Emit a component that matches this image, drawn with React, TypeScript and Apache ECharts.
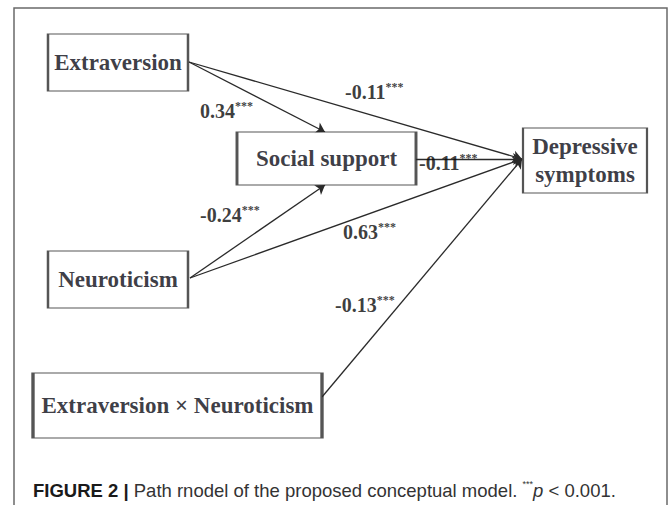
import React, { useEffect, useRef } from "react";
import * as echarts from "echarts";

// Constructs (nodes) of the path model
const nodeNames = [
  "Extraversion",
  "Social support",
  "Depressive\nsymptoms",
  "Neuroticism",
  "Extraversion × Neuroticism",
];
// Layout of the diagram (centre x, centre y, width, height) in diagram units
const nodeX = [118, 326.5, 585, 118, 177.5];
const nodeY = [62.5, 158.5, 160.5, 279.5, 405.5];
const nodeW = [140, 179, 124, 140, 289];
const nodeH = [57, 53, 65, 57, 65];

// Paths: source, target and standardized coefficient
const pathFrom = [0, 0, 1, 3, 3, 4];
const pathTo = [2, 1, 2, 1, 2, 2];
const pathCoef = ["-0.11", "0.34", "-0.11", "-0.24", "0.63", "-0.13"];
const pathSig = ["***", "***", "***", "***", "***", "***"];
// Where each path leaves / enters a box
const fromPort = [
  [189, 62],
  [189, 62],
  [416, 159],
  [190, 278],
  [190, 278],
  [322, 397],
];
const toPort = [
  [522, 159],
  [325, 132],
  [522, 159],
  [325, 185],
  [522, 159],
  [522, 159],
];
// Where each coefficient label sits (left edge, middle)
const labelPos = [
  [345, 92],
  [200, 111],
  [419, 163],
  [200, 215],
  [343, 232],
  [335, 305],
];

const captionBold = "FIGURE 2 | ";
const captionText = "Path rnodel of the proposed conceptual model. ";
const captionTail = " < 0.001.";

export default function App() {
  const ref = useRef<HTMLDivElement>(null);
  useEffect(() => {
    if (!ref.current) return;
    const chart = echarts.init(ref.current, null, { renderer: "svg" });
    const serif = "'Liberation Serif', 'Times New Roman', serif";
    const sans = "'Liberation Sans', Arial, Helvetica, sans-serif";

    const boxData = nodeNames.map((n, i) => ({
      name: n,
      value: [nodeX[i], nodeY[i]],
      symbolSize: [nodeW[i], nodeH[i]],
    }));

    const lineData = pathFrom.map((f, i) => ({
      coords: [fromPort[i], toPort[i]],
    }));

    const labelData = pathCoef.map((c, i) => ({
      value: labelPos[i],
      name: c,
      sig: pathSig[i],
    }));

    chart.setOption({
      animation: false,
      backgroundColor: "#ffffff",
      grid: { left: 0, right: 0, top: 0, bottom: 0 },
      xAxis: { type: "value", min: 0, max: 669, show: false },
      yAxis: { type: "value", min: 0, max: 505, inverse: true, show: false },
      graphic: [
        {
          type: "rect",
          shape: { x: 14, y: 8, width: 653, height: 530 },
          style: { fill: "none", stroke: "#6a6a6a", lineWidth: 1.5 },
          silent: true,
          z: 0,
        },
        {
          type: "text",
          x: 33,
          y: 490,
          style: {
            text:
              "{b|" + captionBold + "}{r|" + captionText + "}{s|***}{i|p}{r|" + captionTail + "}",
            verticalAlign: "middle",
            rich: {
              b: { fontFamily: sans, fontWeight: "bold", fontSize: 18.5, fill: "#1a1a1a" },
              r: { fontFamily: sans, fontSize: 18.5, fill: "#333" },
              s: { fontFamily: sans, fontSize: 9, fill: "#333", verticalAlign: "top", lineHeight: 21 },
              i: { fontFamily: sans, fontStyle: "italic", fontSize: 18.5, fill: "#333" },
            },
          },
          z: 10,
        },
      ],
      series: [
        {
          type: "lines",
          coordinateSystem: "cartesian2d",
          z: 2,
          symbol: ["none", "arrow"],
          symbolSize: 9,
          lineStyle: { color: "#2a2a2a", width: 1.3, opacity: 1 },
          data: lineData,
          silent: true,
        },
        {
          type: "scatter",
          z: 3,
          symbol: "rect",
          itemStyle: { color: "#ffffff", borderColor: "#2a2a2a", borderWidth: 1.6 },
          label: {
            show: true,
            position: "inside",
            formatter: (p: any) => p.name,
            fontFamily: serif,
            fontWeight: "bold",
            fontSize: 23,
            lineHeight: 28,
            color: "#0a0a14",
          },
          data: boxData,
          silent: true,
        },
        {
          type: "scatter",
          z: 4,
          symbolSize: 0,
          label: {
            show: true,
            position: "right",
            distance: 0,
            formatter: (p: any) => "{n|" + p.name + "}{s|" + p.data.sig + "}",
            rich: {
              n: { fontFamily: serif, fontWeight: "bold", fontSize: 20, color: "#0a0a0a", lineHeight: 22 },
              s: {
                fontFamily: serif,
                fontWeight: "bold",
                fontSize: 12,
                color: "#0a0a0a",
                verticalAlign: "top",
                lineHeight: 22,
              },
            },
          },
          data: labelData,
          silent: true,
        },
      ],
    });
    return () => chart.dispose();
  }, []);
  return (
    <div
      ref={ref}
      style={{ position: "absolute", left: 0, top: 0, width: 669, height: 505 }}
    />
  );
}
